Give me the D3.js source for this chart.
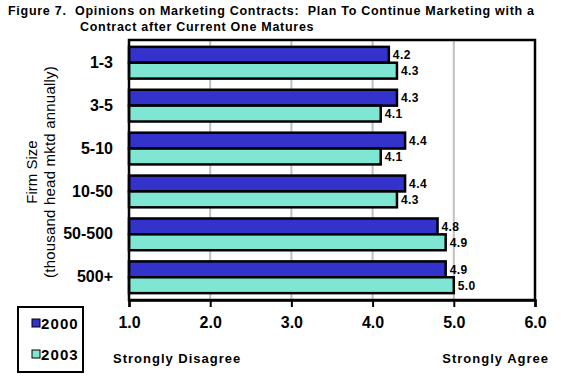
<!DOCTYPE html>
<html><head><meta charset="utf-8">
<script src="https://cdn.jsdelivr.net/npm/d3@7/dist/d3.min.js"></script>
<style>
body{margin:0;background:#fff;}
svg{display:block;font-family:"Liberation Sans",Arial,sans-serif;}
</style></head>
<body><svg id="c" width="563" height="380"></svg>
<script>
const categories = ["1-3","3-5","5-10","10-50","50-500","500+"];
const seriesNames = ["2000","2003"];
const values2000 = [4.2,4.3,4.4,4.4,4.8,4.9];
const values2003 = [4.3,4.1,4.1,4.3,4.9,5.0];
const xTicks = [1,2,3,4,5,6];
const colors = ["#3333CC","#7FE6D4"];
const titleLines = ["Figure 7.  Opinions on Marketing Contracts:  Plan To Continue Marketing with a","Contract after Current One Matures"];

const svg = d3.select("#c");
const L=129, R=535, T=40, B=300;
const x = d3.scaleLinear().domain([1,6]).range([L,R]);
const y = d3.scaleBand().domain(categories).range([T,B]).paddingInner(0.26).paddingOuter(0.16);
const ys = d3.scaleBand().domain(seriesNames).range([0,y.bandwidth()]);

// title
svg.append("text").attr("x",8).attr("y",15).attr("font-weight","bold").attr("font-size",12.5).attr("letter-spacing",0.72).attr("xml:space","preserve").text(titleLines[0]);
svg.append("text").attr("x",80).attr("y",31).attr("font-weight","bold").attr("font-size",12.5).attr("letter-spacing",0.72).text(titleLines[1]);

// gridlines
svg.append("g").selectAll("line").data(xTicks.slice(1,-1)).join("line")
  .attr("x1",d=>x(d)).attr("x2",d=>x(d)).attr("y1",T).attr("y2",B)
  .attr("stroke","#c0c0c0").attr("stroke-width",2);

// bars
const data = categories.map((c,i)=>({c, v:[values2000[i],values2003[i]]}));
const g = svg.append("g");
data.forEach(d=>{
  seriesNames.forEach((s,j)=>{
    g.append("rect").attr("x",x(1)).attr("y",y(d.c)+ys(s))
     .attr("width",x(d.v[j])-x(1)).attr("height",ys.bandwidth())
     .attr("fill",colors[j]).attr("stroke","#000").attr("stroke-width",2.5);
    g.append("text").attr("x",x(d.v[j])+4).attr("y",y(d.c)+ys(s)+ys.bandwidth()/2+4.5)
     .attr("font-size",12).attr("font-weight","bold").attr("letter-spacing",0.4).text(d3.format(".1f")(d.v[j]));
  });
});

// frame
svg.append("rect").attr("x",L).attr("y",T).attr("width",R-L).attr("height",B-T)
  .attr("fill","none").attr("stroke","#000").attr("stroke-width",2.5);

// x axis
const xa = svg.append("g").attr("transform",`translate(0,${B})`)
  .call(d3.axisBottom(x).tickValues(xTicks).tickFormat(d3.format(".1f")).tickSize(7).tickPadding(10));
xa.select(".domain").attr("stroke-width",2.5);
xa.selectAll(".tick line").attr("stroke-width",2);
xa.selectAll("text").attr("font-size",16).attr("font-weight","bold").attr("font-family","Liberation Sans, Arial, sans-serif");

// y axis labels
const ya = svg.append("g").attr("transform",`translate(${L},0)`)
  .call(d3.axisLeft(y).tickSize(0).tickPadding(16));
ya.select(".domain").remove();
ya.selectAll("text").attr("font-size",16).attr("font-weight","bold").attr("font-family","Liberation Sans, Arial, sans-serif");

// y title
svg.append("text").attr("transform","translate(37,172) rotate(-90)").attr("text-anchor","middle").attr("font-size",15).text("Firm Size");
svg.append("text").attr("transform","translate(55,172) rotate(-90)").attr("text-anchor","middle").attr("font-size",15).attr("letter-spacing",0.2).text("(thousand head mktd annually)");

// scale end labels
svg.append("text").attr("x",113).attr("y",363).attr("font-size",13).attr("font-weight","bold").attr("letter-spacing",1).text("Strongly Disagree");
svg.append("text").attr("x",549).attr("y",363).attr("text-anchor","end").attr("font-size",13).attr("font-weight","bold").attr("letter-spacing",1).text("Strongly Agree");

// legend
svg.append("rect").attr("x",18).attr("y",307).attr("width",65).attr("height",65).attr("fill","#fff").attr("stroke","#000").attr("stroke-width",2);
seriesNames.forEach((s,j)=>{
  const cy = 323 + j*31;
  svg.append("rect").attr("x",32).attr("y",cy-4).attr("width",8).attr("height",8).attr("fill",colors[j]).attr("stroke","#000").attr("stroke-width",1);
  svg.append("text").attr("x",41).attr("y",cy+5.5).attr("font-size",15).attr("font-weight","bold").attr("letter-spacing",1.1).text(s);
});
</script></body></html>
